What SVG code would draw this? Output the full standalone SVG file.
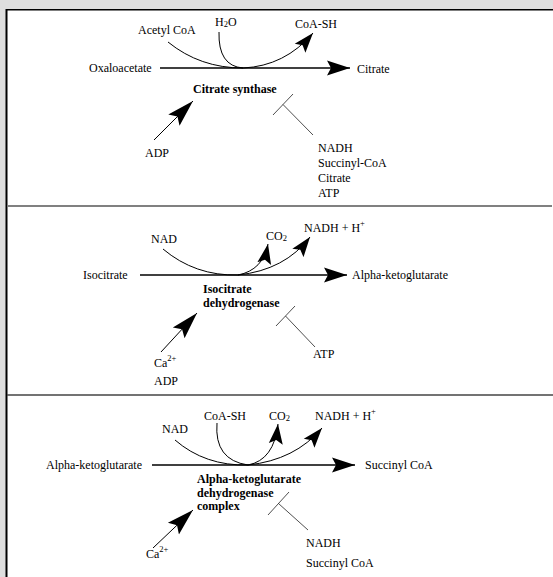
<svg xmlns="http://www.w3.org/2000/svg" width="553" height="577" viewBox="0 0 553 577">
<style>
text{font-family:"Liberation Serif","Times New Roman",serif;font-size:12px;fill:#000}
.b{font-weight:bold}
.main{stroke:#000;stroke-width:1.5;fill:none}
.cur{stroke:#000;stroke-width:1;fill:none}
.inh{stroke:#222;stroke-width:0.8;fill:none}
.sub{font-size:8.5px}
</style>
<defs>
<marker id="big" markerUnits="userSpaceOnUse" markerWidth="26" markerHeight="18" viewBox="0 -9 26 18" refX="23" refY="0" orient="auto"><path d="M0,-7.5 L23,0 L0,7.5 L4,0 Z" fill="#000"/></marker>
<marker id="act" markerUnits="userSpaceOnUse" markerWidth="30" markerHeight="20" viewBox="0 -10 30 20" refX="27" refY="0" orient="auto"><path d="M0,-8 L27,0 L0,8 L5,0 Z" fill="#000"/></marker>
<marker id="sm" markerUnits="userSpaceOnUse" markerWidth="22" markerHeight="16" viewBox="0 -8 22 16" refX="20" refY="0" orient="auto"><path d="M0,-7 L20,0 L0,7 L4,0 Z" fill="#000"/></marker>
</defs>
<rect x="0" y="0" width="553" height="577" fill="#dedede"/>
<rect x="7" y="10" width="546" height="567" fill="#fff"/>
<line x1="6.5" y1="9" x2="6.5" y2="577" stroke="#000" stroke-width="2"/>
<line x1="6" y1="9.7" x2="553" y2="9.7" stroke="#000" stroke-width="1.6"/>
<line x1="7" y1="206" x2="552" y2="206" stroke="#808080" stroke-width="2"/>
<line x1="7" y1="395" x2="553" y2="395" stroke="#444" stroke-width="1.4"/>

<g id="connectors">
<path class="main" d="M160,68 L350,68" marker-end="url(#big)"/>
<path class="cur" d="M168,42 Q200,68 243,68"/>
<path class="cur" d="M219,32 Q218,66 243,68"/>
<path class="cur" d="M243,68 Q285,66 313,33" marker-end="url(#sm)"/>
<path class="cur" d="M154,140 L193,101" marker-end="url(#act)"/>
<path class="inh" d="M273,115 L293,94 M283,104.5 L313,135"/>

<path class="main" d="M140,275 L347,275" marker-end="url(#big)"/>
<path class="cur" d="M163,249 Q195,276 238,275"/>
<path class="cur" d="M238,275 Q263,270 268,244" marker-end="url(#sm)"/>
<path class="cur" d="M238,275 Q285,270 310,237" marker-end="url(#sm)"/>
<path class="cur" d="M161,352 L197,313" marker-end="url(#act)"/>
<path class="inh" d="M276,326 L295,306 M285.5,316 L315,347"/>

<path class="main" d="M152,465 L355,465" marker-end="url(#big)"/>
<path class="cur" d="M175,440 Q205,466 248,465"/>
<path class="cur" d="M217,423 Q214,460 248,465"/>
<path class="cur" d="M248,465 Q274,460 278,424" marker-end="url(#sm)"/>
<path class="cur" d="M248,465 Q295,460 322,428" marker-end="url(#sm)"/>
<path class="cur" d="M153,548 L193,510" marker-end="url(#act)"/>
<path class="inh" d="M268,515 L289,492 M278.5,503.5 L308,530"/>
</g>

<g id="oxaloacetate"><text x="89" y="72">Oxaloacetate</text></g>
<g id="acetylcoa"><text x="138" y="34">Acetyl CoA</text></g>
<g id="h2o"><text x="215" y="26">H<tspan class="sub" dy="1">2</tspan><tspan dy="-1">O</tspan></text></g>
<g id="coash1"><text x="295" y="28">CoA-SH</text></g>
<g id="citrate"><text x="357" y="73">Citrate</text></g>
<g id="citrate-synthase"><text class="b" x="193" y="93">Citrate synthase</text></g>
<g id="adp1"><text x="145" y="157">ADP</text></g>
<g id="inhib1"><text x="318" y="152">NADH</text><text x="318" y="167">Succinyl-CoA</text><text x="318" y="182">Citrate</text><text x="318" y="197">ATP</text></g>

<g id="isocitrate"><text x="83" y="279">Isocitrate</text></g>
<g id="nad2"><text x="151" y="243">NAD</text></g>
<g id="co2-2"><text x="266" y="240">CO<tspan class="sub" dy="1">2</tspan></text></g>
<g id="nadh2"><text x="304" y="232">NADH + H<tspan class="sub" dy="-6">+</tspan></text></g>
<g id="akg"><text x="352" y="279">Alpha-ketoglutarate</text></g>
<g id="idh"><text class="b" x="203" y="293">Isocitrate</text><text class="b" x="203" y="307">dehydrogenase</text></g>
<g id="act2"><text x="154" y="367">Ca<tspan class="sub" dy="-6">2+</tspan></text><text x="154" y="385">ADP</text></g>
<g id="atp2"><text x="313" y="358">ATP</text></g>

<g id="akg3"><text x="46" y="469">Alpha-ketoglutarate</text></g>
<g id="nad3"><text x="162" y="433">NAD</text></g>
<g id="coash3"><text x="204" y="420">CoA-SH</text></g>
<g id="co2-3"><text x="269" y="420">CO<tspan class="sub" dy="1">2</tspan></text></g>
<g id="nadh3"><text x="315" y="420">NADH + H<tspan class="sub" dy="-6">+</tspan></text></g>
<g id="succoa"><text x="365" y="469">Succinyl CoA</text></g>
<g id="akgdh"><text class="b" x="197" y="483">Alpha-ketoglutarate</text><text class="b" x="197" y="497">dehydrogenase</text><text class="b" x="197" y="510">complex</text></g>
<g id="ca3"><text x="146" y="558">Ca<tspan class="sub" dy="-6">2+</tspan></text></g>
<g id="inhib3"><text x="306" y="547">NADH</text><text x="306" y="567">Succinyl CoA</text></g>
</svg>
